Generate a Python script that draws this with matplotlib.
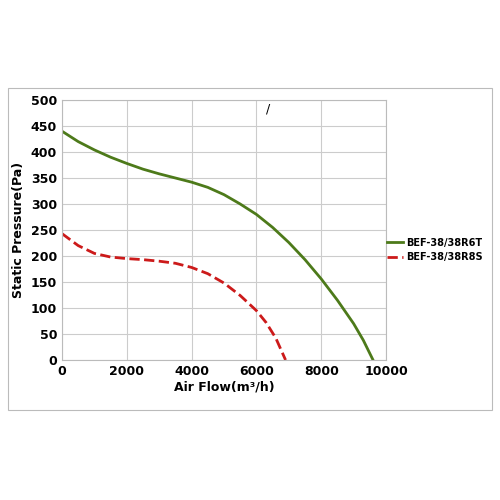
import matplotlib.pyplot as plt
from matplotlib.patches import Rectangle

flow_t = [0, 500, 1000, 1500, 2000, 2500, 3000, 3500, 4000, 4500, 5000, 5500, 6000,
          6500, 7000, 7500, 8000, 8500, 9000, 9300, 9600]
pres_t = [440, 420, 404, 390, 378, 367, 358, 350, 342, 332, 318, 300, 280,
          255, 226, 193, 156, 115, 70, 38, 0]
flow_s = [0, 500, 1000, 1500, 2000, 2500, 3000, 3500, 4000, 4500, 5000, 5500, 6000,
          6300, 6600, 6900]
pres_s = [243, 220, 205, 198, 195, 193, 190, 186, 178, 166, 148, 124, 95,
          72, 42, 0]

fig = plt.figure(figsize=(5, 5), dpi=100)
fig.patches.append(Rectangle((0.016, 0.18), 0.968, 0.644, transform=fig.transFigure,
                             fill=False, edgecolor="#bbbbbb", linewidth=0.8))
ax = fig.add_axes([0.124, 0.28, 0.648, 0.52])
ax.plot(flow_t, pres_t, color="#4d7a1a", linewidth=2, label="BEF-38/38R6T")
ax.plot(flow_s, pres_s, color="#cc1a1a", linewidth=2, linestyle="--", label="BEF-38/38R8S")
ax.set_xlim(0, 10000)
ax.set_ylim(0, 500)
ax.set_xticks(range(0, 10001, 2000))
ax.set_yticks(range(0, 501, 50))
ax.grid(True, color="#cccccc", linewidth=0.8)
for s in ax.spines.values():
    s.set_color("#bbbbbb")
ax.tick_params(length=0, labelsize=9)
for lab in ax.get_xticklabels() + ax.get_yticklabels():
    lab.set_fontweight("bold")
ax.set_ylabel("Static Pressure(Pa)", fontsize=9, fontweight="bold")
ax.set_xlabel("Air Flow(m³/h)", fontsize=9, fontweight="bold", labelpad=2)
ax.text(0.63, 0.95, "/", transform=ax.transAxes, fontsize=9)
fig.legend(loc="center left", bbox_to_anchor=(0.77, 0.5), frameon=False,
           prop={"weight": "bold", "size": 7}, handlelength=1.6, handletextpad=0.4,
           borderaxespad=0.1, borderpad=0.1)
fig.savefig("out.png")
